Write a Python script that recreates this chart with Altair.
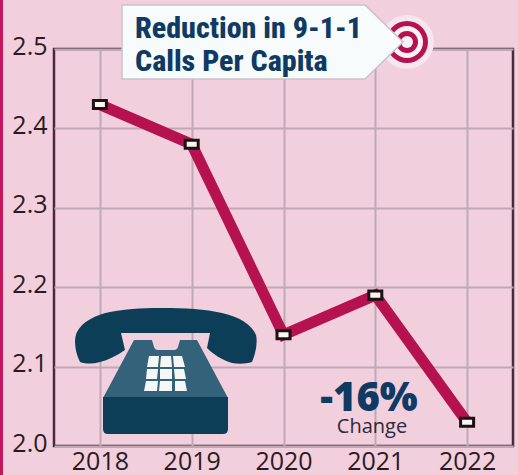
import altair as alt
import pandas as pd

# Annual 9-1-1 calls per capita
years = [2018, 2019, 2020, 2021, 2022]
calls = [2.43, 2.38, 2.14, 2.19, 2.03]
y_ticks = [2.0, 2.1, 2.2, 2.3, 2.4, 2.5]

BG = "#f2cfdd"
CRIMSON = "#b5124f"
NAVY = "#0f3a63"
TEAL_DARK = "#0c3f57"
TEAL_LIGHT = "#33627a"
FRAME = "#4a2a38"
GRID = "#bfa9b5"
INK = "#2b1a22"

LEFT, TOP = 54, 49
W, H = 459, 397

df = pd.DataFrame({"year": years, "calls": calls})
blank = alt.Data(values=[{}])

x = alt.X(
    "year:Q",
    scale=alt.Scale(domain=[2017.5, 2022.5], nice=False, zero=False),
    axis=alt.Axis(values=years, format="d", title=None, ticks=False, domain=False,
                  grid=True, gridColor=GRID, gridWidth=2, labelFontSize=25,
                  labelFont="Open Sans", labelColor=INK, labelPadding=3,
                  labelOverlap=False, labelFlush=False),
)
y = alt.Y(
    "calls:Q",
    scale=alt.Scale(domain=[2.0, 2.5], nice=False, zero=False),
    axis=alt.Axis(values=y_ticks, format=".1f", title=None, ticks=False, domain=False,
                  grid=True, gridColor=GRID, gridWidth=2, labelFontSize=25,
                  labelFont="Open Sans", labelColor=INK, labelPadding=7, labelOffset=-3),
)


def drawing(path, fill, stroke=None, stroke_width=0):
    """Filled vector shape whose path is written in page pixels."""
    kwargs = {"stroke": stroke, "strokeWidth": stroke_width} if stroke else {"strokeWidth": 0}
    return alt.Chart(blank).mark_point(
        shape=path, size=4, filled=True, fill=fill, opacity=1, **kwargs
    ).encode(x=alt.value(-LEFT), y=alt.value(-TOP))


def disc(cx, cy, r, fill):
    return alt.Chart(blank).mark_point(
        shape="circle", size=(2 * r) ** 2, filled=True, fill=fill, opacity=1, strokeWidth=0
    ).encode(x=alt.value(cx - LEFT), y=alt.value(cy - TOP))


def label(text, cx, base, size, color, font, weight="normal", align="center"):
    return alt.Chart(blank).mark_text(
        text=text, fontSize=size, color=color, font=font, fontWeight=weight,
        align=align, baseline="alphabetic",
    ).encode(x=alt.value(cx - LEFT), y=alt.value(base - TOP))


base = alt.Chart(df)
grid_layer = base.mark_point(opacity=0).encode(x=x, y=y)
line = base.mark_line(color=CRIMSON, strokeWidth=11, strokeJoin="miter", strokeCap="butt").encode(x=x, y=y)
markers = base.mark_point(
    shape="M-1,-0.62H1V0.62H-1Z", size=169, filled=True, fill="#fbf6ee",
    stroke="#1d1016", strokeWidth=3, opacity=1,
).encode(x=x, y=y)

strip = drawing("M0,0H3V475H0Z", "#c6175e")

# Telephone illustration
handset = drawing(
    "M80,362C74,350 74,338 77,332C82,322 95,315 110,312C130,308 150,308 163,308"
    "C185,308 205,309 222,313C240,317 252,325 256,335C258,343 255,355 252,362"
    "C246,364 238,364 232,363C222,360 213,354 207,348L210,333H121L125,350"
    "C116,356 108,360 100,362C93,364 86,364 80,362Z",
    TEAL_DARK,
)
phone_top = drawing(
    "M134,340H152L154,347Q155,350 158,350H174Q177,350 178,347L180,340H197L228,398H103Z",
    TEAL_LIGHT,
)
phone_base = drawing("M103,397H228V429Q228,434 223,434H108Q103,434 103,429Z", TEAL_DARK)
keypad = drawing(
    "M149,356H159L158,367H147Z M161,356H171L172,367H160Z M173,356H182L185,367H174Z"
    "M147,369H158L157,379H146Z M160,369H172L172,379H160Z M174,369H184L186,379H175Z"
    "M146,381H158L157,391H144Z M160,381H172L172,391H159Z M175,381H185L187,391H175Z",
    "#f6f8f8",
)

# Target and headline callout
target = [
    disc(407, 42, 27, "#f6e6ee"),
    disc(407, 42, 21, CRIMSON),
    disc(407, 42, 16, "#f9f1f5"),
    disc(407, 42, 11, CRIMSON),
    disc(407, 42, 6, "#f9f1f5"),
]
callout = drawing("M122,5H365L403,42L365,79H122Z", "#f8fbfc", stroke="#c9c3c8", stroke_width=1.5)
HEAD_FONT = "Roboto Condensed, Roboto"
head1 = label("Reduction in 9-1-1", 135, 38, 30, NAVY, HEAD_FONT, 800, "left")
head2 = label("Calls Per Capita", 135, 71, 30, NAVY, HEAD_FONT, 800, "left")

pct = label("-16%", 369, 411, 40, NAVY, "Noto Sans", 900)
change = label("Change", 372, 433, 20, "#2f2a38", "Open Sans")

chart = alt.layer(
    grid_layer, strip, line, markers,
    handset, phone_top, phone_base, keypad,
    *target, callout, head1, head2, pct, change,
).properties(
    width=W,
    height=H,
    padding={"left": LEFT, "top": TOP, "right": 5, "bottom": 29},
    background=BG,
    autosize=alt.AutoSizeParams(type="none"),
).configure_view(stroke=FRAME, strokeWidth=2.5)

chart.save("out.html", embed_options={"renderer": "svg", "actions": False})
